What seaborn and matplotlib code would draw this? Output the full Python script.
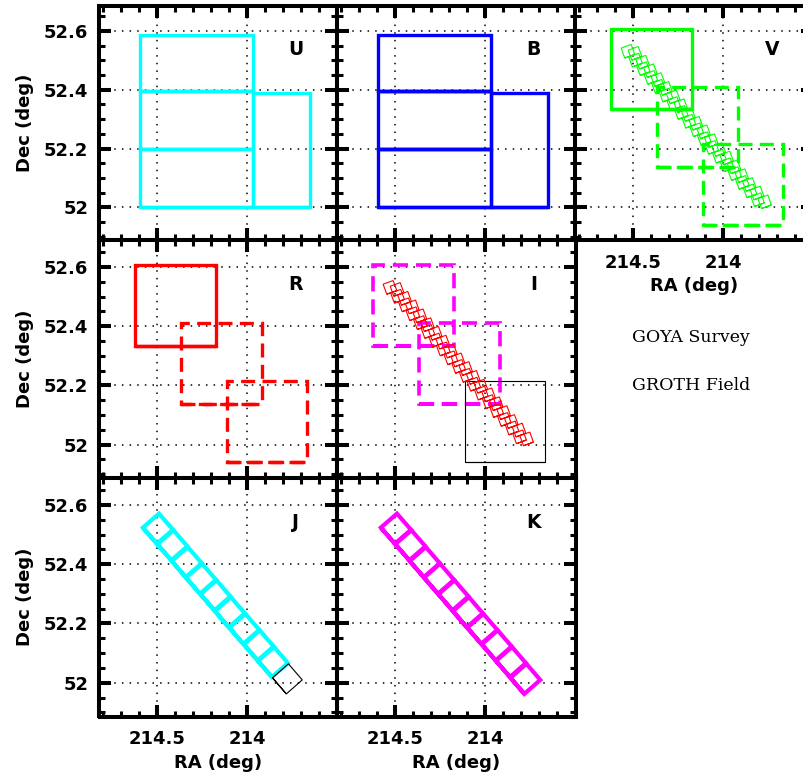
import numpy as np
import pandas as pd
import matplotlib
matplotlib.use("Agg")
import matplotlib.pyplot as plt
from matplotlib.ticker import FixedLocator, MultipleLocator
import seaborn as sns

# ---------------- data (degrees) ----------------
bands = ["U", "B", "V", "R", "I", "J", "K"]

# 4-chip wide-field mosaic (U, B): east/west RA edges, south/north Dec edges
wfc_ra_east = [214.598, 214.598, 214.598, 213.967]
wfc_ra_west = [213.970, 213.970, 213.970, 213.653]
wfc_dec_south = [52.395, 52.198, 52.002, 52.002]
wfc_dec_north = [52.587, 52.395, 52.198, 52.388]

# square optical fields (V, R, I)
sq_ra_east = [214.624, 214.370, 214.115]
sq_ra_west = [214.176, 213.916, 213.668]
sq_dec_south = [52.334, 52.137, 51.941]
sq_dec_north = [52.606, 52.409, 52.214]

# small-tile strip centres (V, I panels)
strip_ra = [214.529, 214.490, 214.487, 214.448, 214.444, 214.405, 214.402, 214.363,
            214.360, 214.321, 214.318, 214.278, 214.275, 214.236, 214.233, 214.194,
            214.191, 214.152, 214.148, 214.109, 214.106, 214.067, 214.064, 214.025,
            214.022, 213.982, 213.979, 213.940, 213.937, 213.898, 213.895, 213.856,
            213.852, 213.813, 213.810, 213.771]
strip_dec = [52.531, 52.524, 52.501, 52.494, 52.472, 52.465, 52.442, 52.435,
             52.412, 52.405, 52.382, 52.376, 52.353, 52.346, 52.323, 52.316,
             52.293, 52.286, 52.264, 52.257, 52.234, 52.227, 52.204, 52.197,
             52.174, 52.168, 52.145, 52.138, 52.115, 52.108, 52.085, 52.078,
             52.056, 52.049, 52.026, 52.019]
strip_size = 0.036
strip_pa = 20.0

# near-IR strip centres (J, K panels)
nir_ra = [214.496, 214.416, 214.336, 214.257, 214.177, 214.097, 214.017, 213.937, 213.858, 213.778]
nir_dec = [52.520, 52.464, 52.407, 52.351, 52.295, 52.238, 52.182, 52.126, 52.070, 52.013]
nir_size = 0.072
nir_pa = -49.0
j_observed = 9  # first 9 J tiles observed, last one planned

x_major = [214.5, 214.0]
y_major = [52.0, 52.2, 52.4, 52.6]
x_tick_labels = ["214.5", "214"]
y_tick_labels = ["52", "52.2", "52.4", "52.6"]

# ---------------- helpers ----------------
def rect(ra_e, ra_w, dec_s, dec_n):
    xs = [ra_e, ra_w, ra_w, ra_e, ra_e, ra_w]
    ys = [dec_s, dec_s, dec_n, dec_n, dec_s, dec_s]
    return xs, ys


def rot_square(ra, dec, size, pa):
    h = size / 2.0
    pts = np.array([[-h, -h], [h, -h], [h, h], [-h, h], [-h, -h], [h, -h]])
    t = np.deg2rad(pa)
    rot = np.array([[np.cos(t), -np.sin(t)], [np.sin(t), np.cos(t)]])
    p = pts @ rot.T
    ras = ra - p[:, 0] / np.cos(np.deg2rad(dec))
    decs = dec + p[:, 1]
    return list(ras), list(decs)


def draw(ax, polys, color, lw, dashed=False):
    rows = []
    for i, (xs, ys) in enumerate(polys):
        for x, y in zip(xs, ys):
            rows.append((i, x, y))
    df = pd.DataFrame(rows, columns=["tile", "ra", "dec"])
    kw = dict(color=color, linewidth=lw, solid_joinstyle="miter",
              solid_capstyle="butt", dash_joinstyle="miter", dash_capstyle="butt")
    if dashed:
        kw["linestyle"] = (0, (4.2, 2.2))
    sns.lineplot(data=df, x="ra", y="dec", units="tile", estimator=None,
                 sort=False, ax=ax, legend=False, **kw)


# ---------------- figure ----------------
sns.set_style("ticks")
plt.rcParams["font.family"] = ["DejaVu Sans"]
plt.rcParams["font.weight"] = "bold"
for k in ("text.color", "axes.labelcolor", "xtick.color", "ytick.color", "axes.edgecolor"):
    plt.rcParams[k] = "black"

W, H = 804, 778
fig = plt.figure(figsize=(W / 100, H / 100), dpi=100)

col_left = [99.5, 337.5, 575.5]
col_w = 238
rows_px = [(6, 240), (240, 478), (478, 716.5)]
row_ylim = [(51.889, 52.685), (51.887, 52.691), (51.886, 52.691)]
xlim = (214.82, 213.50)

layout = {"U": (0, 0), "B": (0, 1), "V": (0, 2), "R": (1, 0), "I": (1, 1), "J": (2, 0), "K": (2, 1)}
axes = {}
for b in bands:
    r, c = layout[b]
    top, bot = rows_px[r]
    ax = fig.add_axes([col_left[c] / W, 1 - bot / H, col_w / W, (bot - top) / H])
    axes[b] = ax

wfc_polys = [rect(a, b_, c, d) for a, b_, c, d in zip(wfc_ra_east, wfc_ra_west, wfc_dec_south, wfc_dec_north)]
sq_polys = [rect(a, b_, c, d) for a, b_, c, d in zip(sq_ra_east, sq_ra_west, sq_dec_south, sq_dec_north)]
strip_polys = [rot_square(r_, d_, strip_size, strip_pa) for r_, d_ in zip(strip_ra, strip_dec)]
nir_polys = [rot_square(r_, d_, nir_size, nir_pa) for r_, d_ in zip(nir_ra, nir_dec)]

# U, B
draw(axes["U"], wfc_polys, "#00FFFF", 2.4)
draw(axes["B"], wfc_polys, "#0000FF", 2.4)
# V
draw(axes["V"], strip_polys, "#00FF00", 0.8)
draw(axes["V"], sq_polys[:1], "#00FF00", 2.4)
draw(axes["V"], sq_polys[1:], "#00FF00", 2.4, dashed=True)
# R
draw(axes["R"], sq_polys[:1], "#FF0000", 2.4)
draw(axes["R"], sq_polys[1:], "#FF0000", 2.4, dashed=True)
# I
draw(axes["I"], sq_polys[:2], "#FF00FF", 2.6, dashed=True)
draw(axes["I"], sq_polys[2:], "black", 0.8)
draw(axes["I"], strip_polys, "#FF0000", 0.8)
# J
draw(axes["J"], nir_polys[:j_observed], "#00FFFF", 3.0)
draw(axes["J"], nir_polys[j_observed:], "black", 0.8)
# K
draw(axes["K"], nir_polys, "#FF00FF", 3.0)

for b in bands:
    ax = axes[b]
    r, c = layout[b]
    ax.set_xlim(*xlim)
    ax.set_ylim(*row_ylim[r])
    ax.xaxis.set_major_locator(FixedLocator(x_major))
    ax.yaxis.set_major_locator(FixedLocator(y_major))
    ax.xaxis.set_minor_locator(MultipleLocator(0.1))
    ax.yaxis.set_minor_locator(MultipleLocator(0.05))
    ax.set_xticklabels(x_tick_labels)
    ax.set_yticklabels(y_tick_labels)
    ax.set_axisbelow(True)
    ax.grid(True, which="major", color="black", linestyle=(0, (1, 4)), linewidth=1.1)
    ax.tick_params(which="major", direction="in", length=8.6, width=2.9,
                   top=True, right=True, labelsize=13, pad=8, colors="black")
    ax.tick_params(axis="x", which="major", pad=10)
    ax.tick_params(which="minor", direction="in", length=4.3, width=2.2,
                   top=True, right=True, colors="black")
    for s in ax.spines.values():
        s.set_linewidth(2.9)
        s.set_color("black")
    show_x = b in ("V", "J", "K")
    show_y = c == 0
    ax.tick_params(axis="x", labelbottom=show_x)
    ax.tick_params(axis="y", labelleft=show_y)
    if show_x:
        ax.set_xlabel("RA (deg)", fontsize=13, fontweight="bold", labelpad=4, color="black")
    else:
        ax.set_xlabel("")
    if show_y:
        ax.set_ylabel("Dec (deg)", fontsize=13, fontweight="bold", labelpad=7, color="black")
    else:
        ax.set_ylabel("")
    ax.text(0.825, 0.815, b, transform=ax.transAxes, ha="center", va="center",
            fontsize=13.5, fontweight="bold", color="black")

fig.text(691 / W, 1 - 338 / H, "GOYA Survey", ha="center", va="center",
         family=["DejaVu Serif"], fontweight="normal", fontsize=12.5, color="black")
fig.text(691 / W, 1 - 386 / H, "GROTH Field", ha="center", va="center",
         family=["DejaVu Serif"], fontweight="normal", fontsize=12.5, color="black")

fig.savefig("out.png", dpi=100)
